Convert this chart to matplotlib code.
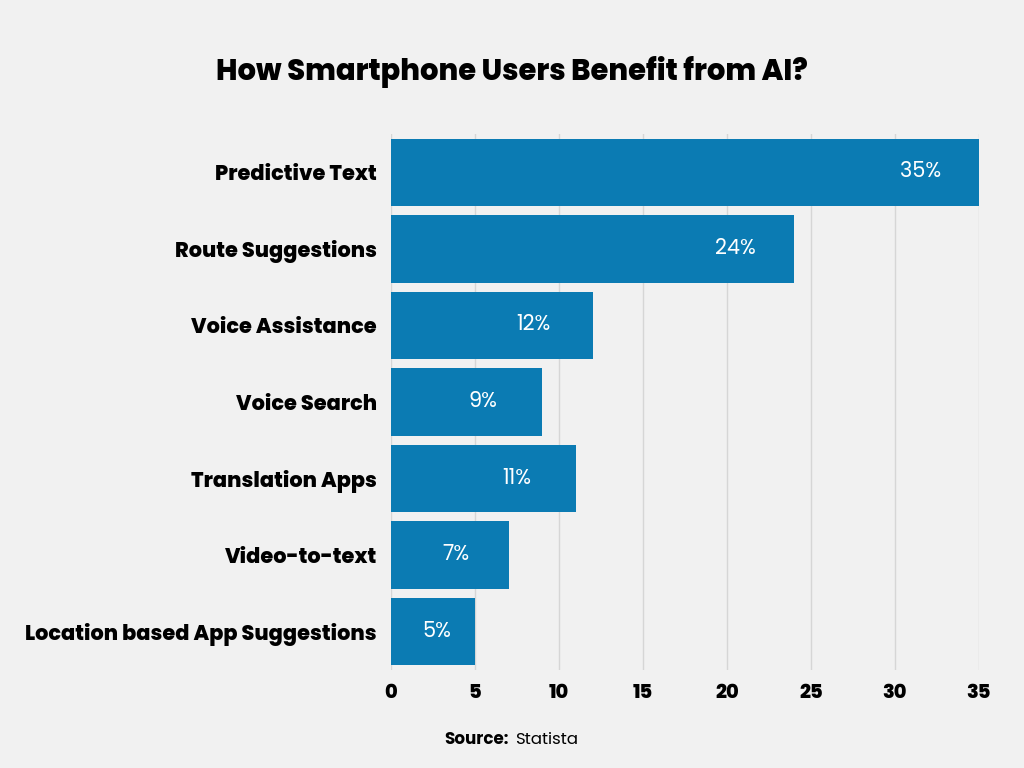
import matplotlib
matplotlib.use("Agg")
import matplotlib.pyplot as plt

# data
categories = ["Predictive Text", "Route Suggestions", "Voice Assistance", "Voice Search",
              "Translation Apps", "Video-to-text", "Location based App Suggestions"]
values = [35, 24, 12, 9, 11, 7, 5]
xticks = [0, 5, 10, 15, 20, 25, 30, 35]

bar_color = "#0b7bb3"
bg = "#f1f1f1"
plt.rcParams['font.family'] = ['Poppins', 'Lato', 'DejaVu Sans']

fig = plt.figure(figsize=(10.24, 7.68), dpi=100, facecolor=bg)
ax = fig.add_axes([0.3818, 0.1276, 0.5742, 0.6979])
ax.set_facecolor(bg)

ypos = list(range(len(categories)))
ax.barh(ypos, values, height=0.88, color=bar_color, zorder=3)
ax.set_ylim(len(categories) - 0.5, -0.5)
ax.set_xlim(0, 35)

ax.set_yticks(ypos)
ax.set_yticklabels(categories, fontsize=15, fontweight='heavy', color='black')
ax.set_xticks(xticks)
ax.set_xticklabels([str(t) for t in xticks], fontsize=14, fontweight='heavy', color='black')
ax.tick_params(axis='y', length=0, pad=10)
ax.tick_params(axis='x', length=0, pad=10)
ax.xaxis.grid(True, color='#d6d6d6', linewidth=1, zorder=0)
for s in ax.spines.values():
    s.set_visible(False)

for y, v in zip(ypos, values):
    x = max(v - 3.5, v * 0.55)
    ax.text(x, y, f"{v}%", color='white', fontsize=15, ha='center', va='center', zorder=4)

fig.text(0.5, 0.906, "How Smartphone Users Benefit from AI?", ha='center', va='center',
         fontsize=20.8, fontweight='heavy', color='black')
fig.text(0.434, 0.036, "Source:", ha='left', va='center', fontsize=12, fontweight='bold')
fig.text(0.503, 0.036, "Statista", ha='left', va='center', fontsize=12)

fig.savefig("out.png", dpi=100, facecolor=bg)
